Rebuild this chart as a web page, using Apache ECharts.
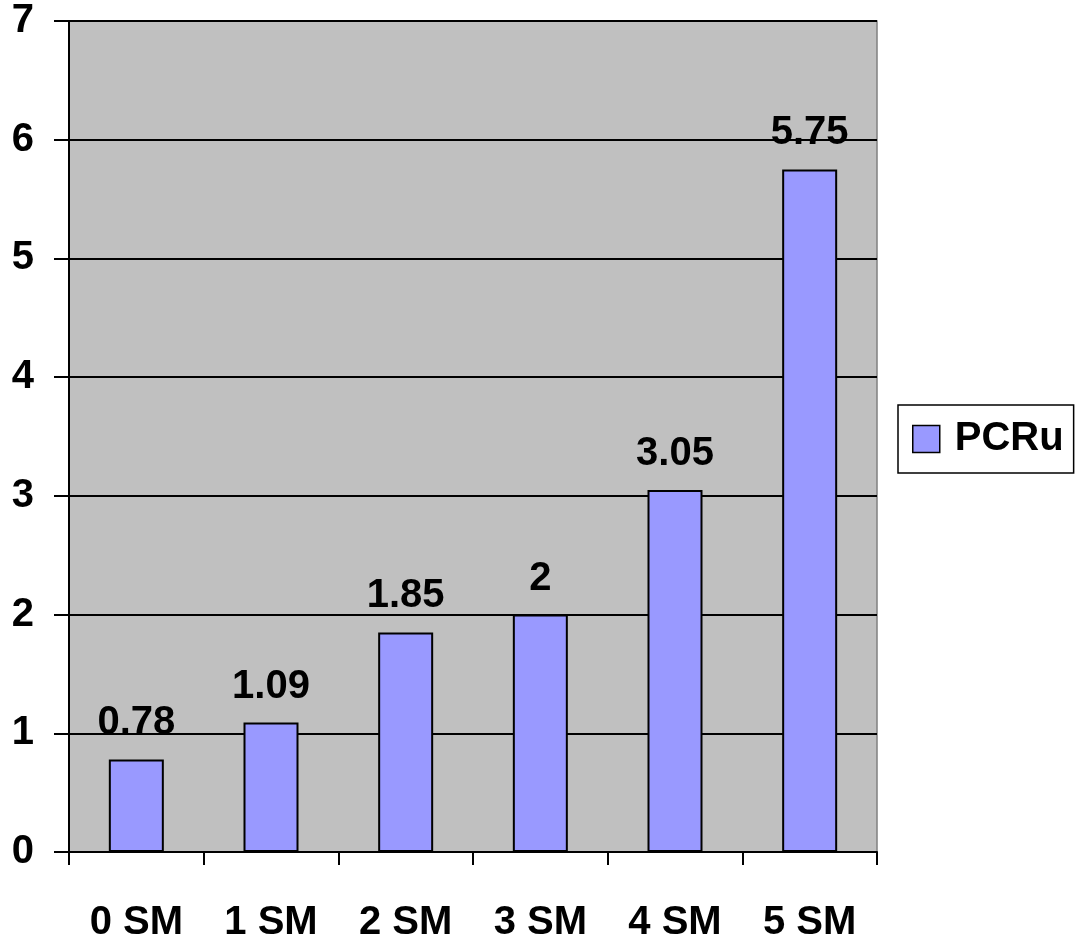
<!DOCTYPE html>
<html>
<head>
<meta charset="utf-8">
<script src="https://cdn.jsdelivr.net/npm/echarts@6/dist/echarts.min.js"></script>
<style>
  html, body { margin: 0; padding: 0; background: #fff; }
  #chart { width: 1077px; height: 943px; }
</style>
</head>
<body>
<div id="chart"></div>
<script>
// categories and values
const categories = ["0 SM", "1 SM", "2 SM", "3 SM", "4 SM", "5 SM"];
const pcru = [0.78, 1.09, 1.85, 2, 3.05, 5.75];
const seriesName = "PCRu";

const font = "'Liberation Sans', Arial, sans-serif";

let chart = echarts.init(document.getElementById("chart"));
chart.setOption({
  animation: false,
  textStyle: { fontFamily: font },
  grid: {
    left: 69,
    right: 200,
    top: 21,
    bottom: 91,
    show: true,
    backgroundColor: "#C0C0C0",
    borderColor: "#808080",
    borderWidth: 1.5
  },
  legend: {
    data: [seriesName],
    left: 898,
    top: 405,
    orient: "vertical",
    icon: "rect",
    itemWidth: 27,
    itemHeight: 27,
    itemGap: 0,
    padding: [14, 10, 14, 14],
    borderColor: "#000",
    borderWidth: 1.5,
    itemStyle: { borderColor: "#000", borderWidth: 1.5 },
    textStyle: { fontSize: 40, fontWeight: "bold", color: "#000", fontFamily: font, padding: [0, 0, 0, 10] }
  },
  xAxis: {
    type: "category",
    data: categories,
    boundaryGap: true,
    axisLine: { lineStyle: { color: "#000", width: 2 } },
    axisTick: { show: true, alignWithLabel: false, length: 13, lineStyle: { color: "#000", width: 2 } },
    axisLabel: { margin: 51, fontSize: 40, fontWeight: "bold", color: "#000", fontFamily: font }
  },
  yAxis: {
    type: "value",
    min: 0,
    max: 7,
    interval: 1,
    axisLine: { show: true, lineStyle: { color: "#000", width: 2 } },
    axisTick: { show: true, length: 15, lineStyle: { color: "#000", width: 2 } },
    splitLine: { show: true, lineStyle: { color: "#000", width: 2 } },
    axisLabel: { margin: 35, fontSize: 40, fontWeight: "bold", color: "#000", fontFamily: font }
  },
  series: [
    {
      name: seriesName,
      type: "bar",
      data: pcru,
      barWidth: 55,
      itemStyle: { color: "#9999FF", borderColor: "#000", borderWidth: 2 },
      label: {
        show: true,
        position: "top",
        distance: 16,
        fontSize: 40,
        fontWeight: "bold",
        color: "#000",
        fontFamily: font
      }
    }
  ]
});
</script>
</body>
</html>
